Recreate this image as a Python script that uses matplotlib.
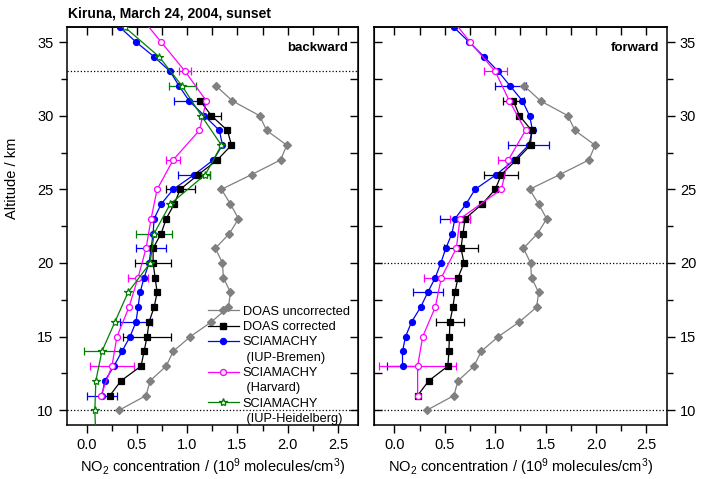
import numpy as np
import matplotlib
matplotlib.use("Agg")
import matplotlib.pyplot as plt
from matplotlib.ticker import MultipleLocator
from matplotlib.lines import Line2D

plt.rcParams["font.family"] = ["Liberation Sans", "DejaVu Sans"]
plt.rcParams["mathtext.fontset"] = "custom"
plt.rcParams["mathtext.rm"] = "Liberation Sans"
plt.rcParams["mathtext.it"] = "Liberation Sans:italic"

# DOAS uncorrected (same in both panels)
alt_unc = np.arange(10, 33)
doas_unc = [0.32, 0.59, 0.63, 0.79, 0.86, 1.03, 1.24, 1.41, 1.43, 1.36, 1.35, 1.28,
            1.42, 1.51, 1.43, 1.34, 1.64, 1.93, 1.99, 1.79, 1.72, 1.45, 1.29]

# backward panel
alt_cor_b = np.arange(11, 32)
doas_cor_b = [0.23, 0.34, 0.54, 0.57, 0.60, 0.62, 0.67, 0.70, 0.68, 0.66, 0.66,
              0.74, 0.79, 0.87, 0.93, 1.11, 1.30, 1.44, 1.40, 1.24, 1.13]
alt_brem_b = np.arange(11, 38)
brem_b = [0.15, 0.18, 0.27, 0.35, 0.43, 0.49, 0.51, 0.53, 0.57, 0.62, 0.64, 0.66,
          0.67, 0.74, 0.86, 1.07, 1.26, 1.35, 1.32, 1.17, 1.02, 0.92, 0.83, 0.67,
          0.49, 0.33, 0.17]
alt_harv_b = np.arange(11, 38, 2)
harv_b = [0.14, 0.25, 0.30, 0.42, 0.51, 0.59, 0.64, 0.70, 0.86, 1.12, 1.19, 0.98,
          0.74, 0.50]
alt_heid_b = np.arange(8, 37, 2)
heid_b = [0.09, 0.08, 0.09, 0.15, 0.28, 0.41, 0.63, 0.67, 0.83, 1.18, 1.34, 1.14,
          0.95, 0.72, 0.38]

# forward panel
alt_cor_f = np.arange(11, 32)
doas_cor_f = [0.23, 0.34, 0.53, 0.54, 0.545, 0.55, 0.58, 0.60, 0.63, 0.69, 0.66,
              0.68, 0.70, 0.87, 1.00, 1.06, 1.21, 1.35, 1.36, 1.24, 1.18]
alt_brem_f = np.arange(13, 38)
brem_f = [0.08, 0.08, 0.11, 0.17, 0.26, 0.33, 0.405, 0.46, 0.51, 0.57, 0.60, 0.71,
          0.80, 1.01, 1.19, 1.33, 1.37, 1.34, 1.27, 1.15, 1.03, 0.89, 0.74, 0.59,
          0.44]
alt_harv_f = np.arange(11, 38, 2)
harv_f = [0.23, 0.23, 0.28, 0.405, 0.465, 0.614, 0.65, 1.06, 1.13, 1.30, 1.14,
          1.00, 0.75, 0.52]

# error bars: altitude -> half width
err_cor_b = {30: 0.10, 25: 0.145, 20: 0.18, 15: 0.24}
err_brem_b = {31: 0.15, 26: 0.16, 21: 0.15, 16: 0.16, 11: 0.15}
err_harv_b = {33: 0.06, 27: 0.07, 19: 0.10, 13: 0.215}
err_heid_b = {32: 0.135, 26: 0.05, 22: 0.18, 14: 0.18}
err_cor_f = {31: 0.105, 26: 0.17, 21: 0.17, 16: 0.14}
err_brem_f = {32: 0.155, 28: 0.20, 23: 0.15, 18: 0.15, 13: 0.155}
err_harv_f = {33: 0.113, 27: 0.10, 23: 0.10, 19: 0.175, 13: 0.38}

GRAY = "#808080"
BLUE = "#0000ff"
MAG = "#ff00ff"
GREEN = "#008000"
STYLE = {
    "unc": dict(color=GRAY, marker="D", ms=4, mfc=GRAY, mec=GRAY),
    "cor": dict(color="black", marker="s", ms=4, mfc="black", mec="black"),
    "brem": dict(color=BLUE, marker="o", ms=4.3, mfc=BLUE, mec=BLUE),
    "harv": dict(color=MAG, marker="o", ms=4.3, mfc="white", mec=MAG),
    "heid": dict(color=GREEN, marker="*", ms=6, mfc="white", mec=GREEN),
}


def series(ax, alts, vals, errs, key):
    st = STYLE[key]
    lookup = dict(zip(alts, vals))
    if errs:
        ea = list(errs.keys())
        ax.errorbar([lookup[a] for a in ea], ea, xerr=[errs[a] for a in ea],
                    fmt="none", ecolor=st["color"], elinewidth=0.9, capsize=3,
                    capthick=0.9, zorder=2)
    ax.plot(vals, alts, lw=0.9, mew=0.9, zorder=3, **st)


fig = plt.figure(figsize=(7.03, 4.79), dpi=100)
axl = fig.add_axes([0.0949, 0.1127, 0.4144, 0.8303])
axr = fig.add_axes([0.5324, 0.1127, 0.4159, 0.8303])

for ax in (axl, axr):
    series(ax, alt_unc, doas_unc, None, "unc")

series(axl, alt_brem_b, brem_b, err_brem_b, "brem")
series(axl, alt_cor_b, doas_cor_b, err_cor_b, "cor")
series(axl, alt_harv_b, harv_b, err_harv_b, "harv")
series(axl, alt_heid_b, heid_b, err_heid_b, "heid")

series(axr, alt_brem_f, brem_f, err_brem_f, "brem")
series(axr, alt_cor_f, doas_cor_f, err_cor_f, "cor")
series(axr, alt_harv_f, harv_f, err_harv_f, "harv")

for y in (33, 10):
    axl.axhline(y, color="black", ls=":", lw=0.9, zorder=1)
for y in (20, 10):
    axr.axhline(y, color="black", ls=":", lw=0.9, zorder=1)

xlab = r"NO$_2$ concentration / (10$^9$ molecules/cm$^3$)"
for ax in (axl, axr):
    ax.set_xlim(-0.2, 2.7)
    ax.set_ylim(9, 36)
    ax.xaxis.set_major_locator(MultipleLocator(0.5))
    ax.xaxis.set_minor_locator(MultipleLocator(0.25))
    ax.yaxis.set_major_locator(MultipleLocator(5))
    ax.yaxis.set_minor_locator(MultipleLocator(2.5))
    ax.xaxis.set_major_formatter(matplotlib.ticker.FormatStrFormatter("%.1f"))
    ax.tick_params(which="major", direction="out", length=6, width=1,
                   labelsize=10.5, top=False)
    ax.tick_params(which="minor", direction="out", length=4, width=1, top=False)
    for s in ax.spines.values():
        s.set_linewidth(1.1)
    ax.set_xlabel(xlab, fontsize=10.5, labelpad=3)
    top = ax.secondary_xaxis("top")
    top.xaxis.set_major_locator(MultipleLocator(0.25))
    top.tick_params(which="both", direction="in", length=6, width=1,
                    labeltop=False)
    top.spines["top"].set_linewidth(1.1)

# left panel: y labels left, inward ticks on right
axl.tick_params(axis="y", which="both", right=False)
sr = axl.secondary_yaxis("right")
sr.yaxis.set_major_locator(MultipleLocator(2.5))
sr.tick_params(which="both", direction="in", length=6, width=1, labelright=False)
axl.set_ylabel("Altitude / km", fontsize=10.5)
axl.yaxis.set_label_coords(-0.165, 0.62)

# right panel: y labels right, inward ticks on left
axr.yaxis.tick_right()
axr.tick_params(axis="y", which="both", left=False, labelleft=False)
sl = axr.secondary_yaxis("left")
sl.yaxis.set_major_locator(MultipleLocator(2.5))
sl.tick_params(which="both", direction="in", length=6, width=1, labelleft=False)

axl.text(0.965, 0.948, "backward", transform=axl.transAxes, ha="right",
         va="center", fontsize=9.5, fontweight="bold")
axr.text(0.975, 0.948, "forward", transform=axr.transAxes, ha="right",
         va="center", fontsize=9.5, fontweight="bold")
fig.text(0.097, 0.972, "Kiruna, March 24, 2004, sunset", ha="left",
         va="center", fontsize=10, fontweight="bold")

blank = Line2D([], [], lw=0, marker=None)
handles = [
    Line2D([], [], lw=0.9, **STYLE["unc"]),
    Line2D([], [], lw=0.9, **STYLE["cor"]),
    Line2D([], [], lw=0.9, **STYLE["brem"]),
    blank,
    Line2D([], [], lw=0.9, **STYLE["harv"]),
    blank,
    Line2D([], [], lw=0.9, **STYLE["heid"]),
    blank,
]
labels = ["DOAS uncorrected", "DOAS corrected", "SCIAMACHY", " (IUP-Bremen)",
          "SCIAMACHY", " (Harvard)", "SCIAMACHY", " (IUP-Heidelberg)"]
axl.legend(handles, labels, loc="upper left", bbox_to_anchor=(0.485, 0.30),
           frameon=False, fontsize=9.2, handlelength=2.4, handletextpad=0.3,
           labelspacing=0.26, borderpad=0, borderaxespad=0)

fig.savefig("out.png", dpi=100)
